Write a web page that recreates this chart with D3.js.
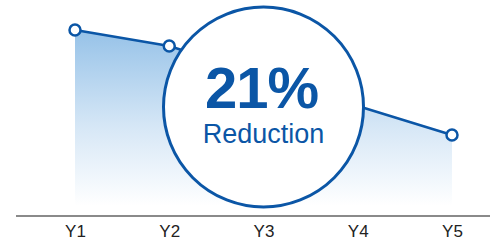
<!DOCTYPE html>
<html>
<head>
<meta charset="utf-8">
<script src="https://cdn.jsdelivr.net/npm/d3@7"></script>
<style>
  html, body { margin: 0; padding: 0; background: #fff; }
  svg { display: block; }
</style>
</head>
<body>
<div id="chart"></div>
<script>
// Line/area chart with a big "21% Reduction" callout circle.

var categories = ['Y1', 'Y2', 'Y3', 'Y4', 'Y5'];
var values = [93, 85, 70, 55, 40.5];
var callout = '21%';
var calloutLabel = 'Reduction';

var width = 496;
var height = 242;
var blue = '#0b56a6';
var font = 'Liberation Sans, Arial, Helvetica, sans-serif';

var svg = d3.select('#chart')
    .append('svg')
    .attr('width', width)
    .attr('height', height);

// Scales
var xScale = d3.scalePoint()
    .domain(categories)
    .range([75, 452]);

var yScale = d3.scaleLinear()
    .domain([0, 100])
    .range([216, 16]);

// Gradient for the area (fades to white just above the baseline)
var grad = svg.append('defs')
    .append('linearGradient')
    .attr('id', 'areaGrad')
    .attr('gradientUnits', 'userSpaceOnUse')
    .attr('x1', 0).attr('x2', 0)
    .attr('y1', yScale(d3.max(values)))
    .attr('y2', yScale(5));
grad.append('stop').attr('offset', '0%').attr('stop-color', '#96c2e8');
grad.append('stop').attr('offset', '55%').attr('stop-color', '#d6e7f6');
grad.append('stop').attr('offset', '100%').attr('stop-color', '#ffffff');

var data = categories.map(function (c, i) { return { cat: c, value: values[i] }; });

// Area
var area = d3.area()
    .x(function (d) { return xScale(d.cat); })
    .y0(yScale(0))
    .y1(function (d) { return yScale(d.value); });

svg.append('path')
    .datum(data)
    .attr('d', area)
    .attr('fill', 'url(#areaGrad)');

// Line
var line = d3.line()
    .x(function (d) { return xScale(d.cat); })
    .y(function (d) { return yScale(d.value); });

svg.append('path')
    .datum(data)
    .attr('d', line)
    .attr('fill', 'none')
    .attr('stroke', blue)
    .attr('stroke-width', 2.5);

// Points
svg.selectAll('circle.pt')
    .data(data)
    .join('circle')
    .attr('class', 'pt')
    .attr('cx', function (d) { return xScale(d.cat); })
    .attr('cy', function (d) { return yScale(d.value); })
    .attr('r', 5.5)
    .attr('fill', '#fff')
    .attr('stroke', blue)
    .attr('stroke-width', 2.5);

// X axis (baseline + labels)
var axis = svg.append('g')
    .attr('transform', 'translate(0,' + yScale(0) + ')')
    .attr('font-size', 17)
    .attr('font-family', font)
    .call(d3.axisBottom(xScale).tickSize(0).tickPadding(9));

axis.attr('font-size', 17).attr('font-family', font);

axis.select('.domain')
    .attr('d', 'M16,0H490')
    .attr('stroke', '#8a8a8a')
    .attr('stroke-width', 2);

axis.selectAll('text')
    .attr('fill', '#222');

// Callout circle, centred on the middle category
var cx = xScale(categories[2]);
svg.append('circle')
    .attr('cx', cx)
    .attr('cy', 107)
    .attr('r', 100)
    .attr('fill', '#fff')
    .attr('stroke', blue)
    .attr('stroke-width', 3);

svg.append('text')
    .attr('x', cx - 2)
    .attr('y', 108)
    .attr('text-anchor', 'middle')
    .attr('fill', blue)
    .attr('font-family', font)
    .attr('font-weight', 'bold')
    .attr('font-size', '58px')
    .attr('letter-spacing', '-1px')
    .text(callout);

svg.append('text')
    .attr('x', cx)
    .attr('y', 143)
    .attr('text-anchor', 'middle')
    .attr('fill', blue)
    .attr('font-family', font)
    .attr('font-size', '27px')
    .text(calloutLabel);
</script>
</body>
</html>
